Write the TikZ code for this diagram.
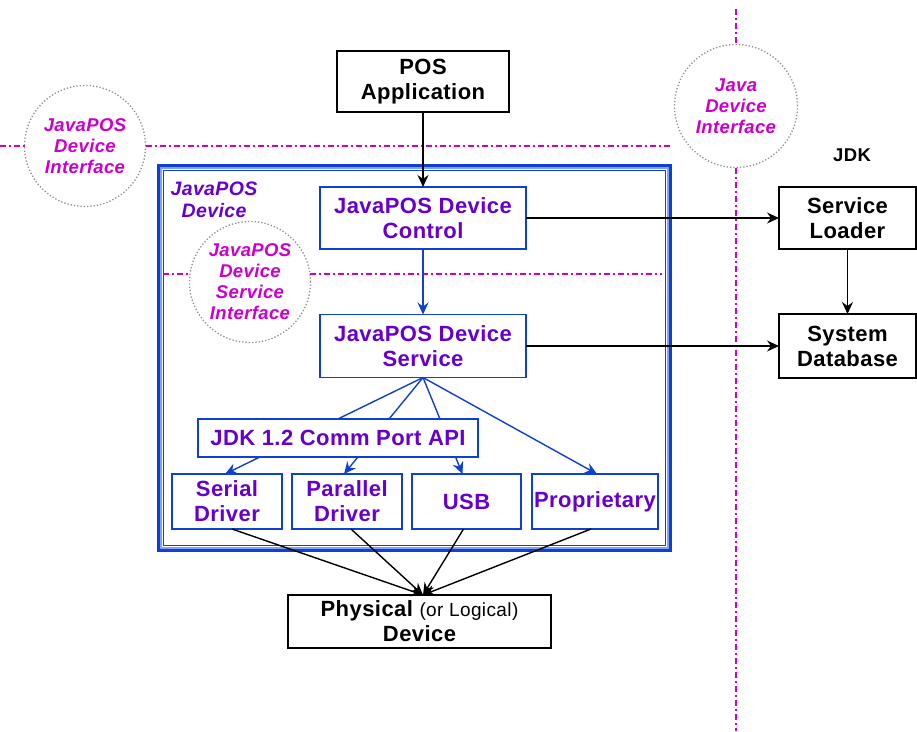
\documentclass[tikz,border=0pt]{standalone}
\usepackage{fontspec}
\setmainfont{Liberation Sans}[LetterSpace=2]
\usetikzlibrary{arrows.meta,calc}
\definecolor{bl}{HTML}{1040D0}
\definecolor{lbl}{HTML}{7FA0FF}
\definecolor{pu}{HTML}{6600CC}
\definecolor{mg}{HTML}{CC00CC}
\definecolor{gr}{HTML}{909090}
\tikzset{
  bigtxt/.style={font=\fontsize{22}{25}\selectfont\bfseries, align=center},
  bbox/.style={draw=bl, line width=1.5pt, fill=white, text=pu, bigtxt, inner sep=0pt, outer sep=0pt},
  kbox/.style={draw=black, line width=1.5pt, fill=white, text=black, bigtxt, inner sep=0pt, outer sep=0pt},
  iface/.style={circle, draw=gr, line width=1.3pt, dotted, text=mg, align=center, inner sep=0pt, outer sep=0pt, minimum size=121pt,
    font=\fontsize{18.5}{21}\selectfont\bfseries\itshape},
  dashdot/.style={draw=mg, line width=2pt, dash pattern=on 6pt off 3pt on 2pt off 3pt},
  karrow/.style={draw=black, line width=1.4pt, -{Stealth[length=12pt,width=11pt,inset=4pt]}},
  barrow/.style={draw=bl, line width=1.4pt, -{Stealth[length=12pt,width=11pt,inset=4pt]}}
}
\begin{document}
\begin{tikzpicture}[x=1pt,y=-1pt]
\useasboundingbox (0,0) rectangle (917,731);
% frame
\draw[draw=bl, line width=3pt] (158.5,165.5) rectangle (670.5,550.5);
\draw[draw=lbl, line width=1.2pt] (161,168) rectangle (668,548);
\draw[draw=bl, line width=0.9pt] (163.5,170.5) rectangle (665.5,545.5);

% interface circles
\node[iface] (jpdi) at (85,146) {JavaPOS\\Device\\Interface};
\node[iface, minimum size=123pt] (jdi) at (736,106) {Java\\Device\\Interface};
\node[iface] (jdsi) at (250,282) {JavaPOS\\Device\\Service\\Interface};

% dash-dot lines
\coordinate (hl0) at (0,146);
\coordinate (hl1) at (671,146);
\draw[dashdot] (hl0) -- (jpdi.west);
\draw[dashdot] (jpdi.east) -- (hl1);
\coordinate (il0) at (163,274);
\coordinate (il1) at (190,274);
\coordinate (il2) at (310,274);
\coordinate (il3) at (662,274);
\draw[dashdot] (il0) -- (il1);
\draw[dashdot] (il2) -- (il3);
\coordinate (vl0) at (736,9);
\coordinate (vl1) at (736,731);
\draw[dashdot] (vl0) -- (jdi.north);
\draw[dashdot] (jdi.south) -- (vl1);

% labels
\node[text=pu, align=center, font=\fontsize{19.5}{22}\selectfont\bfseries\itshape] (jpdlabel) at (214,200) {JavaPOS\\Device};
\node[text=black, font=\fontsize{18.5}{21}\selectfont\bfseries] (jdklabel) at (852,155) {JDK};

% boxes
\node[kbox, minimum width=172pt, minimum height=61pt] (pos) at (423,81.5) {POS\\Application};
\node[bbox, minimum width=206pt, minimum height=62pt] (dc) at (423,218) {JavaPOS Device\\Control};
\node[bbox, minimum width=206pt, minimum height=63pt] (ds) at (423,346) {JavaPOS Device\\Service};
\node[bbox, minimum width=110pt, minimum height=55pt] (serial) at (227,501.5) {Serial\\Driver};
\node[bbox, minimum width=110pt, minimum height=55pt] (parallel) at (347,501.5) {Parallel\\Driver};
\node[bbox, minimum width=109pt, minimum height=55pt] (usb) at (466.5,501.5) {USB};
\node[bbox, minimum width=126pt, minimum height=55pt] (prop) at (595,501.5) {Proprietary};
\node[kbox, minimum width=263pt, minimum height=53pt] (phys) at (419.5,621.5) {Physical {\mdseries\fontsize{19}{21}\selectfont (or Logical)}\\Device};
\node[kbox, minimum width=137pt, minimum height=62pt] (sl) at (847.5,218) {Service\\Loader};
\node[kbox, minimum width=137pt, minimum height=64pt] (sdb) at (847.5,346) {System\\Database};

% fan lines from service to drivers (behind JDK box)
\draw[barrow] (ds.south) -- ($(serial.north)+(-2,0)$);
\draw[barrow] (ds.south) -- ($(parallel.north)+(-3,0)$);
\draw[barrow] (ds.south) -- ($(usb.north)+(-4,0)$);
\draw[barrow] (ds.south) -- ($(prop.north)+(2,0)$);
\node[bbox, minimum width=280pt, minimum height=38pt] (jdk) at (338,438) {JDK 1.2 Comm Port API};

% arrows
\draw[karrow] (pos.south) -- (dc.north);
\draw[barrow] (dc.south) -- (ds.north);
\draw[karrow] (dc.east) -- (sl.west);
\draw[karrow] (ds.east) -- (sdb.west);
\draw[karrow] (sl.south) -- (sdb.north);
\coordinate (pin) at (423,595);
\draw[karrow] ($(serial.south)+(5,0)$) -- (pin);
\draw[karrow] ($(parallel.south)+(4,0)$) -- (pin);
\draw[karrow] ($(usb.south)+(-3,0)$) -- (pin);
\draw[karrow] ($(prop.south)+(-4,0)$) -- (pin);
\end{tikzpicture}
\end{document}
